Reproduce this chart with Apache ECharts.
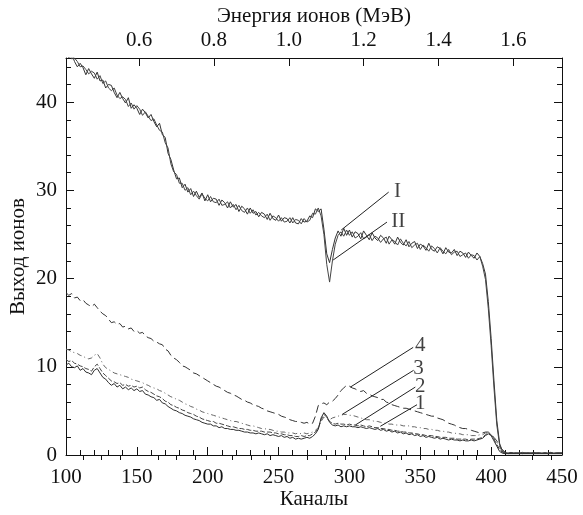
<!DOCTYPE html>
<html>
<head>
<meta charset="utf-8">
<script src="https://cdn.jsdelivr.net/npm/echarts@6/dist/echarts.min.js"></script>
<style>
html,body{margin:0;padding:0;background:#fff;}
#chart{width:583px;height:515px;}
</style>
</head>
<body>
<div id="chart"></div>
<script>
// Channel numbers (x)
const channels = [
100,102,104,106,108,110,112,114,116,118,
120,122,124,126,128,130,132,134,136,138,
140,142,144,146,148,150,152,154,156,158,
160,162,164,166,168,170,172,174,176,178,
180,182,184,186,188,190,192,194,196,198,
200,202,204,206,208,210,212,214,216,218,
220,222,224,226,228,230,232,234,236,238,
240,242,244,246,248,250,252,254,256,258,
260,262,264,266,268,270,272,274,276,278,
280,282,284,286,288,290,292,294,296,298,
300,302,304,306,308,310,312,314,316,318,
320,322,324,326,328,330,332,334,336,338,
340,342,344,346,348,350,352,354,356,358,
360,362,364,366,368,370,372,374,376,378,
380,382,384,386,388,390,392,394,396,398,
400,402,404,406,408,410,412,414,416,418,
420,422,424,426,428,430,432,434,436,438,
440,442,444,446,448,450];

const seriesI = [
45.8,45.0,45.5,44.6,44.0,44.4,43.9,43.1,43.8,43.2,
42.7,43.4,42.4,42.5,41.6,42.0,41.9,41.1,40.5,41.1,
40.4,39.9,40.5,39.3,39.7,39.3,38.6,39.2,38.8,38.2,
38.6,37.8,37.2,37.6,36.3,36.0,34.2,33.5,32.3,31.3,
31.4,30.3,30.7,29.8,30.2,29.3,29.9,29.2,29.7,28.8,
29.5,28.7,29.1,29.0,28.3,28.9,28.6,28.0,28.7,28.1,
28.4,27.6,28.2,27.9,27.3,28.0,27.4,27.6,27.0,27.5,
27.3,26.7,27.4,26.8,26.6,27.2,26.5,26.9,26.8,26.3,
26.9,26.3,26.2,26.8,26.4,26.5,27.1,26.9,27.9,27.6,
27.9,25.6,22.8,21.8,23.3,24.6,25.4,24.8,25.7,24.9,
25.5,24.7,25.3,25.1,24.5,25.4,24.9,24.4,25.2,24.6,
24.3,24.9,24.6,24.0,24.8,24.4,23.9,24.7,24.1,23.8,
24.4,23.6,24.0,24.2,23.4,23.9,23.7,23.2,24.0,23.3,
23.1,23.6,23.4,22.8,23.5,23.0,22.9,23.3,22.6,23.1,
22.9,22.4,23.0,22.6,22.3,22.9,22.5,21.7,20.5,17.4,
13.2,8.4,3.9,1.3,0.4,0.25,0.2,0.3,0.2,0.25,
0.2,0.3,0.2,0.25,0.2,0.3,0.2,0.25,0.2,0.25,
0.2,0.3,0.2,0.25,0.2,0.25];

const seriesII = [
45.4,45.7,44.9,45.0,44.6,44.0,44.1,43.7,43.2,43.5,
43.3,42.6,43.0,42.1,42.4,41.6,41.3,41.6,40.8,40.4,
40.6,40.3,39.5,39.9,39.2,39.6,39.2,38.5,38.9,38.4,
37.9,38.1,37.4,36.8,36.6,35.4,34.8,33.0,32.1,31.8,
30.8,30.8,30.0,30.3,29.5,29.9,29.4,29.0,29.6,29.1,
28.8,29.3,28.7,28.6,29.0,28.3,28.4,28.7,28.0,28.4,
27.8,28.3,27.7,27.5,28.0,27.4,27.8,27.2,27.5,27.1,
26.9,27.3,26.6,27.1,26.9,26.5,26.9,26.4,26.5,26.9,
26.3,26.7,26.6,26.2,26.8,26.4,26.6,27.4,27.3,28.0,
27.1,25.0,21.6,19.6,22.0,23.9,24.9,25.3,24.8,25.5,
24.9,25.3,24.6,24.8,25.2,24.5,24.7,25.0,24.3,24.8,
24.6,24.1,24.5,24.7,23.9,24.4,24.2,23.8,24.5,24.0,
23.7,24.2,23.5,23.8,24.0,23.3,23.8,23.5,23.1,23.7,
23.4,22.9,23.5,23.1,22.8,23.3,22.7,23.0,23.1,22.5,
22.7,22.9,22.3,22.7,22.6,22.1,22.5,21.4,19.9,16.6,
12.4,7.6,3.4,1.1,0.35,0.3,0.15,0.25,0.2,0.2,
0.25,0.15,0.25,0.2,0.25,0.15,0.25,0.2,0.2,0.25,
0.15,0.25,0.2,0.2,0.25,0.2];

const series1 = [
10.2,10.4,10.0,9.9,10.1,9.6,9.8,9.4,9.3,9.1,
9.6,9.8,9.3,8.8,8.6,8.2,7.9,8.1,7.7,7.9,
7.5,7.7,7.4,7.6,7.3,7.5,7.2,7.3,6.9,6.8,
6.6,6.5,6.2,6.3,5.9,5.8,5.5,5.3,5.1,5.0,
4.8,4.7,4.5,4.4,4.3,4.1,4.0,3.9,3.7,3.6,
3.5,3.5,3.3,3.3,3.1,3.2,3.0,3.0,2.9,2.9,
2.8,2.8,2.7,2.6,2.6,2.5,2.5,2.4,2.5,2.4,
2.3,2.4,2.2,2.3,2.2,2.1,2.2,2.0,2.1,1.9,
2.0,1.8,1.9,1.8,1.9,2.0,1.9,2.1,2.4,2.9,
4.2,4.8,4.4,3.7,3.4,3.3,3.4,3.2,3.3,3.2,
3.3,3.2,3.2,3.1,3.2,3.1,3.0,3.1,3.0,2.9,
3.0,2.8,2.9,2.7,2.8,2.6,2.7,2.5,2.6,2.4,
2.5,2.3,2.4,2.2,2.3,2.1,2.2,2.0,2.1,2.0,
1.9,2.0,1.8,1.9,1.8,1.7,1.8,1.7,1.7,1.6,
1.7,1.6,1.6,1.7,1.6,1.7,1.8,1.9,2.2,2.4,
2.2,1.6,1.0,0.4,0.2,0.15,0.15,0.15,0.15,0.15,
0.15,0.15,0.15,0.15,0.15,0.15,0.15,0.15,0.15,0.15,
0.15,0.15,0.15,0.15,0.15,0.15];

const series2 = [
10.8,10.6,10.7,10.4,10.3,10.1,10.0,9.8,9.7,9.5,
10.0,10.3,9.8,9.3,9.0,8.7,8.4,8.3,8.1,8.2,
7.9,8.0,7.8,7.9,7.7,7.8,7.6,7.7,7.4,7.2,
7.1,6.9,6.7,6.6,6.4,6.1,6.0,5.7,5.6,5.4,
5.3,5.1,5.0,4.8,4.7,4.6,4.4,4.3,4.1,4.0,
3.9,3.8,3.8,3.6,3.6,3.5,3.4,3.3,3.2,3.2,
3.1,3.0,3.0,2.9,2.9,2.8,2.8,2.7,2.7,2.7,
2.6,2.6,2.6,2.5,2.5,2.4,2.4,2.3,2.3,2.2,
2.2,2.1,2.1,2.2,2.1,2.2,2.2,2.4,2.6,3.0,
4.0,4.6,4.3,3.8,3.6,3.5,3.6,3.5,3.5,3.4,
3.5,3.4,3.4,3.3,3.4,3.3,3.2,3.3,3.2,3.1,
3.1,3.0,3.0,2.9,2.9,2.8,2.8,2.7,2.7,2.6,
2.6,2.5,2.5,2.4,2.4,2.3,2.3,2.2,2.2,2.2,
2.1,2.1,2.0,2.0,2.0,1.9,1.9,1.9,1.8,1.8,
1.8,1.8,1.7,1.8,1.8,1.8,1.9,2.0,2.3,2.5,
2.3,1.8,1.2,0.6,0.3,0.2,0.2,0.2,0.2,0.2,
0.2,0.2,0.2,0.2,0.2,0.2,0.2,0.2,0.2,0.2,
0.2,0.2,0.2,0.2,0.2,0.2];

const series3 = [
12.0,11.9,11.7,11.6,11.5,11.3,11.2,11.0,10.9,11.0,
11.3,11.5,11.0,10.3,9.9,9.7,9.5,9.3,9.2,9.1,
9.0,8.9,8.8,8.6,8.5,8.4,8.3,8.2,8.0,7.9,
7.7,7.6,7.5,7.3,7.2,7.0,6.8,6.6,6.5,6.3,
6.2,6.0,5.8,5.7,5.5,5.4,5.2,5.1,4.9,4.8,
4.7,4.6,4.5,4.4,4.3,4.2,4.1,4.0,3.9,3.8,
3.8,3.7,3.6,3.5,3.4,3.3,3.3,3.2,3.1,3.0,
3.0,2.9,2.9,2.8,2.7,2.7,2.6,2.6,2.5,2.5,
2.5,2.4,2.5,2.4,2.5,2.4,2.5,2.6,2.8,3.1,
3.8,4.3,4.1,4.0,4.2,4.3,4.4,4.5,4.6,4.6,
4.5,4.5,4.4,4.3,4.2,4.1,4.0,4.0,3.9,3.8,
3.8,3.7,3.6,3.6,3.5,3.5,3.4,3.4,3.4,3.3,
3.3,3.3,3.2,3.2,3.1,3.1,3.0,3.0,2.9,2.9,
2.8,2.8,2.7,2.7,2.6,2.6,2.5,2.5,2.4,2.4,
2.3,2.3,2.3,2.2,2.2,2.2,2.3,2.3,2.5,2.6,
2.3,1.9,1.4,0.9,0.4,0.2,0.2,0.2,0.2,0.2,
0.2,0.2,0.2,0.2,0.2,0.2,0.2,0.2,0.2,0.2,
0.2,0.2,0.2,0.2,0.2,0.2];

const series4 = [
18.4,18.1,18.3,17.8,17.9,17.5,17.6,17.2,17.0,16.8,
17.1,16.7,16.3,16.0,15.8,15.4,15.0,15.1,14.8,14.9,
14.5,14.6,14.3,14.4,14.0,14.1,13.8,13.9,13.5,13.3,
13.2,12.9,12.8,12.6,12.5,12.0,11.8,11.3,11.0,10.8,
10.5,10.1,10.0,9.8,9.6,9.3,9.2,9.0,8.8,8.6,
8.4,8.2,8.0,7.8,7.7,7.5,7.3,7.1,7.0,6.8,
6.7,6.5,6.3,6.2,6.0,5.9,5.7,5.6,5.5,5.3,
5.2,5.0,4.9,4.8,4.7,4.6,4.4,4.3,4.2,4.0,
3.9,3.8,3.8,3.7,3.6,3.7,3.5,3.6,4.4,5.6,
5.8,5.9,5.7,6.0,6.1,6.4,6.8,7.3,7.6,7.9,
7.8,7.6,7.5,7.3,7.2,7.3,7.0,6.9,6.7,6.6,
6.5,6.3,6.3,6.0,5.9,5.7,5.6,5.5,5.4,5.3,
5.3,5.2,5.1,5.0,4.9,4.8,4.7,4.6,4.5,4.4,
4.4,4.2,4.1,4.0,3.8,3.6,3.5,3.4,3.2,3.1,
3.0,3.0,2.9,2.8,2.7,2.6,2.5,2.5,2.6,2.6,
2.3,2.0,1.6,1.0,0.6,0.3,0.2,0.2,0.2,0.2,
0.2,0.2,0.2,0.2,0.2,0.2,0.2,0.2,0.2,0.2,
0.2,0.2,0.2,0.2,0.2,0.2];

// Axis tick labels
const channelTicks = [100,150,200,250,300,350,400,450];
const energyTicks = [0.6,0.8,1.0,1.2,1.4,1.6];
const energyMinorTicks = [0.45,0.5,0.55,0.65,0.7,0.75,0.85,0.9,0.95,1.05,1.1,1.15,1.25,1.3,1.35,1.45,1.5,1.55,1.65,1.7];
const energyRange = [0.4045, 1.730];
const yieldTicks = [0,10,20,30,40];
const yieldMinorTicks = [2,4,6,8,12,14,16,18,22,24,26,28,32,34,36,38,42,44];

// Curve annotations (labels, leader line start/end, label anchor)
const annotLabels = ['I','II','4','3','2','1'];
const annotStart = [[294.2,25.5],[288.5,22.1],[300.7,7.7],[294.9,4.6],[304.2,3.4],[321.8,3.25]];
const annotEnd = [[327.7,29.8],[326.5,26.4],[345.0,12.2],[345.3,9.6],[346.5,7.7],[347.7,5.7]];
const annotText = [[334.0,29.85],[334.5,26.5],[350.0,12.45],[348.8,9.75],[350.0,7.75],[350.0,5.8]];

const FONT = "'Liberation Serif','Times New Roman',serif";
const INK = '#111111';
const pairs = arr => channels.map((c, i) => [c, arr[i]]);

const lineSeries = (name, arr, color, type) => ({
  name, type: 'line', data: pairs(arr), xAxisIndex: 0, yAxisIndex: 0,
  symbol: 'none', showSymbol: false, clip: true, animation: false, silent: true,
  lineStyle: { color, width: 1, type }
});

const chart = echarts.init(document.getElementById('chart'), null, { renderer: 'canvas' });
chart.setOption({
  backgroundColor: '#ffffff',
  animation: false,
  grid: { left: 65, right: 21, top: 58, bottom: 56, containLabel: false },
  xAxis: [
    {
      type: 'value', position: 'bottom', min: 100, max: 450, interval: 50,
      axisLine: { show: true, onZero: false, lineStyle: { color: INK, width: 1 } },
      axisTick: { show: true, inside: true, length: 8, lineStyle: { color: INK } },
      minorTick: { show: true, splitNumber: 5, length: 5, lineStyle: { color: INK } },
      splitLine: { show: false },
      axisLabel: { color: INK, fontFamily: FONT, fontSize: 21, margin: 12,
        customValues: channelTicks },
      name: 'Каналы', nameLocation: 'middle', nameGap: 34, nameMoveOverlap: false,
      nameTextStyle: { color: INK, fontFamily: FONT, fontSize: 21 }
    },
    {
      type: 'value', position: 'top', min: energyRange[0], max: energyRange[1],
      axisLine: { show: true, onZero: false, lineStyle: { color: INK, width: 1 } },
      axisTick: { show: true, inside: true, length: 8, customValues: energyTicks, lineStyle: { color: INK } },
      splitLine: { show: false },
      axisLabel: { color: INK, fontFamily: FONT, fontSize: 21, margin: 7,
        customValues: energyTicks, formatter: v => Number(v).toFixed(1) },
      name: 'Энергия ионов (МэВ)', nameLocation: 'middle', nameGap: 31, nameMoveOverlap: false,
      nameTextStyle: { color: INK, fontFamily: FONT, fontSize: 21 }
    },
    {
      type: 'value', position: 'top', min: energyRange[0], max: energyRange[1],
      axisLine: { show: false },
      axisTick: { show: true, inside: true, length: 5, customValues: energyMinorTicks, lineStyle: { color: INK } },
      splitLine: { show: false },
      axisLabel: { show: false }
    }
  ],
  yAxis: [
    {
      type: 'value', position: 'left', min: 0, max: 45,
      axisLine: { show: true, onZero: false, lineStyle: { color: INK, width: 1 } },
      axisTick: { show: true, inside: true, length: 8, customValues: yieldTicks, lineStyle: { color: INK } },
      splitLine: { show: false },
      axisLabel: { color: INK, fontFamily: FONT, fontSize: 21, margin: 9, customValues: yieldTicks },
      name: 'Выход ионов', nameLocation: 'middle', nameGap: 37, nameMoveOverlap: false,
      nameTextStyle: { color: INK, fontFamily: FONT, fontSize: 21 }
    },
    {
      type: 'value', position: 'left', min: 0, max: 45,
      axisLine: { show: false },
      axisTick: { show: true, inside: true, length: 5, customValues: yieldMinorTicks, lineStyle: { color: INK } },
      splitLine: { show: false }, axisLabel: { show: false }
    },
    {
      type: 'value', position: 'right', min: 0, max: 45,
      axisLine: { show: true, onZero: false, lineStyle: { color: INK, width: 1 } },
      axisTick: { show: true, inside: true, length: 8, customValues: yieldTicks, lineStyle: { color: INK } },
      splitLine: { show: false }, axisLabel: { show: false }
    },
    {
      type: 'value', position: 'right', min: 0, max: 45,
      axisLine: { show: false },
      axisTick: { show: true, inside: true, length: 5, customValues: yieldMinorTicks, lineStyle: { color: INK } },
      splitLine: { show: false }, axisLabel: { show: false }
    }
  ],
  series: [
    lineSeries('I', seriesI, '#333333', 'solid'),
    lineSeries('II', seriesII, '#444444', 'solid'),
    lineSeries('4', series4, '#333333', [8, 4]),
    lineSeries('3', series3, '#666666', [5, 3, 1, 3]),
    lineSeries('2', series2, '#444444', [5, 2]),
    lineSeries('1', series1, '#2e2e2e', 'solid'),
    {
      type: 'scatter', xAxisIndex: 0, yAxisIndex: 0, silent: true, animation: false,
      symbolSize: 1, itemStyle: { color: 'rgba(0,0,0,0)' },
      data: annotText.map((p, i) => ({ value: p, name: annotLabels[i] })),
      label: { show: true, position: 'inside', formatter: p => p.name,
        color: INK, fontFamily: FONT, fontSize: 21 },
      markLine: {
        silent: true, animation: false, symbol: ['none', 'none'],
        label: { show: false },
        lineStyle: { color: '#222', width: 1, type: 'solid' },
        data: annotStart.map((s, i) => [{ coord: s }, { coord: annotEnd[i] }])
      }
    }
  ]
});
</script>
</body>
</html>
